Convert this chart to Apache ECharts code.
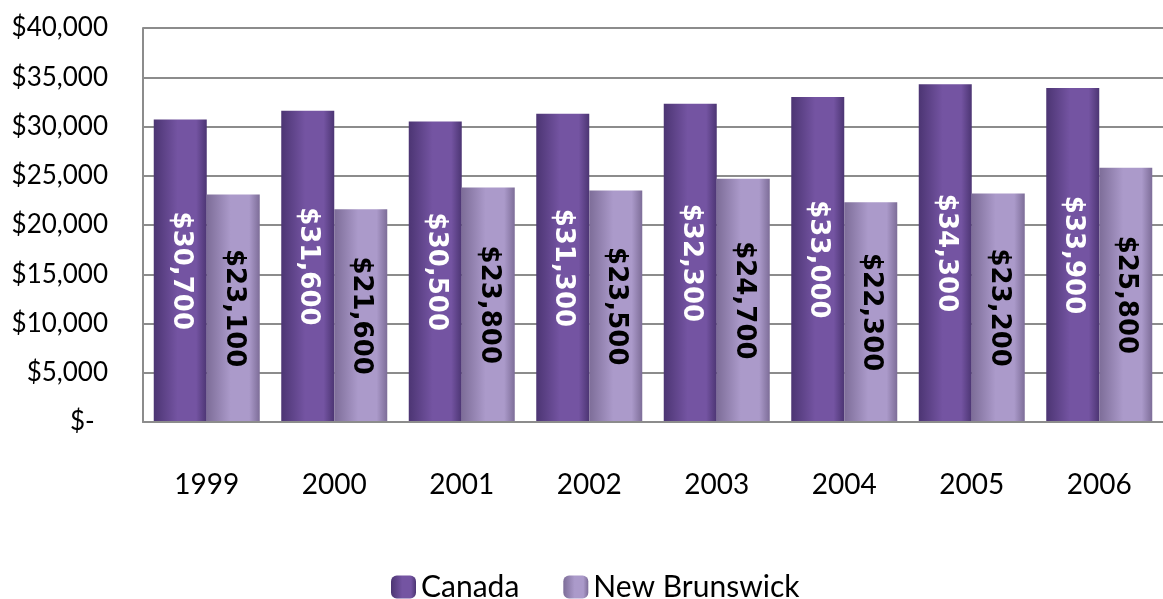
<!DOCTYPE html>
<html>
<head>
<meta charset="utf-8">
<script src="https://cdn.jsdelivr.net/npm/echarts@6/dist/echarts.min.js"></script>
<style>
  html, body { margin: 0; padding: 0; background: #fff; }
  #chart { width: 1163px; height: 599px; }
</style>
</head>
<body>
<div id="chart"></div>
<script>
var years = ['1999', '2000', '2001', '2002', '2003', '2004', '2005', '2006'];
var canada = [30700, 31600, 30500, 31300, 32300, 33000, 34300, 33900];
var newBrunswick = [23100, 21600, 23800, 23500, 24700, 22300, 23200, 25800];

function money(v){
  return '$' + v.toLocaleString('en-US');
}

function barFill(edge, mid){
  return new echarts.graphic.LinearGradient(0, 0, 1, 0, [
    {offset: 0, color: edge},
    {offset: 0.45, color: mid},
    {offset: 0.8, color: mid},
    {offset: 1, color: edge}
  ]);
}

var myChart = echarts.init(document.getElementById('chart'));
var option = {
  animation: false,
  grid: {
    left: 143,
    top: 28,
    width: 1032,
    height: 394
  },
  legend: {
    left: 386,
    top: 567,
    itemWidth: 25,
    itemHeight: 23,
    itemGap: 44,
    textStyle: {
      fontFamily: 'Lato',
      fontSize: 30,
      color: '#000'
    },
    data: ['Canada', 'New Brunswick']
  },
  xAxis: {
    type: 'category',
    data: years,
    z: 5,
    axisLine: { lineStyle: { color: '#8c8c8c', width: 2 } },
    axisTick: { show: false },
    axisLabel: {
      margin: 49,
      fontFamily: 'Lato',
      fontSize: 28,
      color: '#000'
    }
  },
  yAxis: {
    type: 'value',
    min: 0,
    max: 40000,
    interval: 5000,
    axisLine: { show: true, lineStyle: { color: '#8c8c8c', width: 2 } },
    axisTick: { show: false },
    splitLine: { lineStyle: { color: '#8c8c8c', width: 2 } },
    axisLabel: {
      margin: 35,
      fontFamily: 'Lato',
      fontSize: 26,
      color: '#000',
      padding: [10, 0, 0, 0],
      formatter: function(v){
        return v === 0 ? '$-  ' : money(v);
      }
    }
  },
  series: [
    {
      name: 'Canada',
      type: 'bar',
      data: canada,
      barWidth: 53,
      barGap: '0%',
      itemStyle: { color: barFill('#4c3573', '#7454a2') },
      label: {
        show: true,
        position: 'inside',
        rotate: -90,
        color: '#fff',
        fontFamily: 'DejaVu Sans',
        fontWeight: 'bold',
        fontSize: 26,
        formatter: function(p){ return money(p.value); }
      }
    },
    {
      name: 'New Brunswick',
      type: 'bar',
      data: newBrunswick,
      barWidth: 53,
      itemStyle: { color: barFill('#7d6d98', '#ab9aca') },
      label: {
        show: true,
        position: 'inside',
        rotate: -90,
        color: '#000',
        fontFamily: 'DejaVu Sans',
        fontWeight: 'bold',
        fontSize: 26,
        formatter: function(p){ return money(p.value); }
      }
    }
  ]
};
myChart.setOption(option);
</script>
</body>
</html>
